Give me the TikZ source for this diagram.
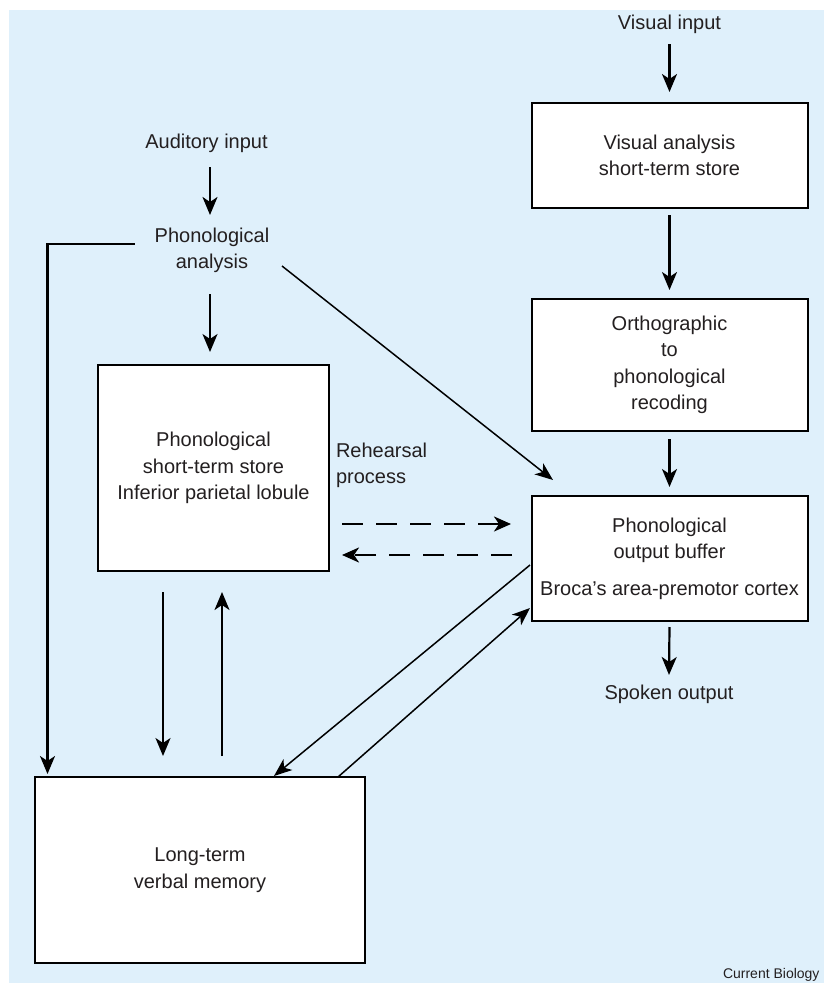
\documentclass[tikz,border=0pt]{standalone}
\usepackage{fontspec}
\setmainfont{Liberation Sans}
\usetikzlibrary{arrows.meta}
\definecolor{bgblue}{RGB}{223,240,251}
\definecolor{txt}{RGB}{35,31,32}
\begin{document}
\begin{tikzpicture}[x=1pt,y=-1pt,
  every node/.style={text=txt, font=\fontsize{20}{26.5}\selectfont, inner sep=0pt, outer sep=0pt},
  box/.style={draw=black, fill=white, line width=2pt, align=center},
  lbl/.style={align=center},
  arr/.style={line width=2.2pt, -{Stealth[length=18pt,width=15pt,inset=5pt]}},
  darr/.style={line width=1.5pt, -{Stealth[length=18pt,width=14pt,inset=5pt]}},
  dasharr/.style={line width=2.5pt, dash pattern=on 21pt off 13pt, -{Stealth[length=17pt,width=15pt,inset=5pt]}}
]
\useasboundingbox (0,0) rectangle (824,983);
\clip (0,0) rectangle (824,983);
\fill[bgblue] (9,10) rectangle (824,983);

% boxes
\node[box, minimum width=276pt, minimum height=105pt] (vis) at (669.5,155.5) {Visual analysis\\short-term store};
\node[box, minimum width=276pt, minimum height=132pt] (orth) at (669.5,365) {Orthographic\\to\\phonological\\recoding};
\node[box, minimum width=276pt, minimum height=125pt] (buf) at (669.5,558.5) {Phonological\\output buffer\\[10pt]Broca’s area-premotor cortex};
\node[box, minimum width=231pt, minimum height=206pt] (sts) at (213.5,468) {Phonological\\short-term store\\Inferior parietal lobule};
\node[box, minimum width=330pt, minimum height=186pt] (ltm) at (200,870) {Long-term\\verbal memory};

% labels
\node[lbl] (vin) at (669.5,24) {Visual input};
\node[lbl] (ain) at (206.5,143) {Auditory input};
\node[lbl] (pa) at (212,250.3) {Phonological\\analysis};
\node[align=left, anchor=west] (reh) at (336,465.3) {Rehearsal\\process};
\node[lbl] (spk) at (669,694) {Spoken output};
\node[anchor=west, font=\fontsize{14}{16}\selectfont] (cb) at (723,974.5) {Current Biology};

% right column arrows
\draw[arr] ([yshift=-10.7pt]vin.south) -- ([yshift=11pt]vis.north);
\draw[arr] ([yshift=-7pt]vis.south) -- ([yshift=9pt]orth.north);
\draw[arr] ([yshift=-8pt]orth.south) -- ([yshift=9pt]buf.north);
\draw[arr] ([yshift=-6pt]buf.south) -- ([yshift=9.7pt]spk.north);

% left column arrows
\draw[arr] ([xshift=3.5pt,yshift=-14.7pt]ain.south) -- ([xshift=-2pt,yshift=12.75pt]pa.north);
\draw[arr] ([xshift=-2pt,yshift=-21.15pt]pa.south) -- ([xshift=-3.5pt,yshift=13pt]sts.north);
\draw[arr] ([xshift=-19.75pt,yshift=6.3pt]pa.west) -| ([xshift=12.5pt,yshift=3pt]ltm.north west);
\draw[darr] ([xshift=70pt,yshift=-15.7pt]pa.center) -- ([xshift=21.5pt,yshift=16pt]buf.north west);

% sts <-> ltm
\draw[arr] ([xshift=65pt,yshift=-21pt]sts.south west) -- ([xshift=128pt,yshift=21pt]ltm.north west);
\draw[arr] ([xshift=187pt,yshift=21pt]ltm.north west) -- ([xshift=124pt,yshift=-21pt]sts.south west);

% buf <-> ltm
\draw[darr] ([xshift=-1.5pt,yshift=-6.5pt]buf.west) -- ([xshift=239pt,yshift=1pt]ltm.north west);
\draw[darr] ([xshift=303pt]ltm.north west) -- ([xshift=-1.5pt,yshift=-49.5pt]buf.west);

% rehearsal loop
\draw[dasharr] ([xshift=13pt,yshift=-56pt]sts.east) -- ([xshift=-20.5pt,yshift=34.5pt]buf.west);
\draw[dasharr] ([xshift=-19.5pt,yshift=3.5pt]buf.west) -- ([xshift=13pt,yshift=-87pt]sts.east);
\end{tikzpicture}
\end{document}
